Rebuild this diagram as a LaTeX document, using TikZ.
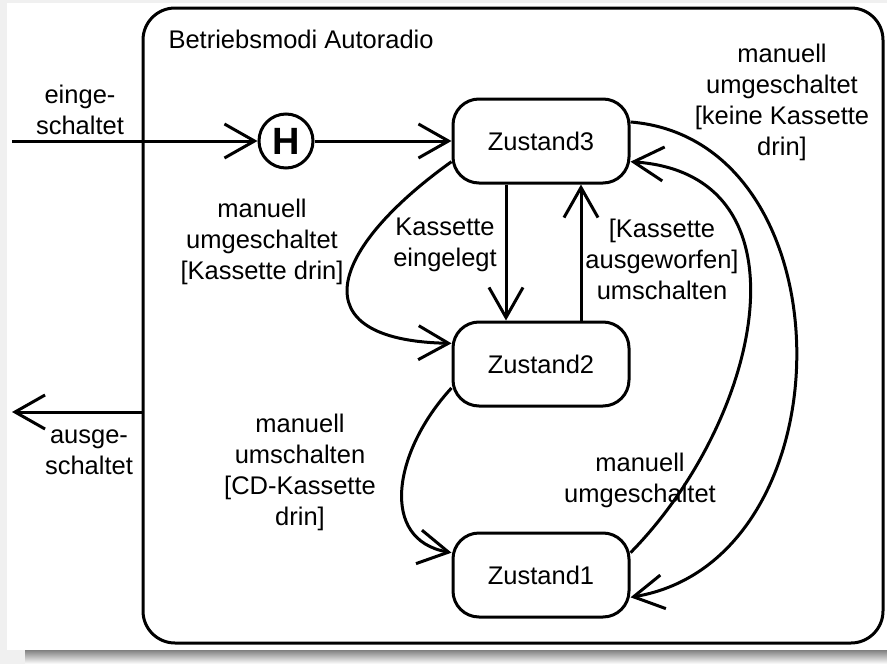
\documentclass[tikz,border=0pt]{standalone}
\usepackage{fontspec}
\setmainfont{Liberation Sans}
\usetikzlibrary{arrows.meta}

\definecolor{rim}{HTML}{F0F0F0}
\definecolor{shade}{HTML}{808080}

\tikzset{
  zustand/.style={draw, line width=3pt, rounded corners=26pt, minimum width=176pt, minimum height=84pt},
  trans/.style={line width=3pt, -{Straight Barb[length=30pt,width=34pt]}},
  lbl/.style={align=center, inner sep=0pt},
}

\begin{document}
\begin{tikzpicture}[x=1pt,y=-1pt, every node/.style={font=\fontsize{25.5}{31}\selectfont}]
  % page with shadow bar
  \fill[rim] (0,0) rectangle (887,664);
  \fill[white] (7,3) rectangle (887,650);
  \fill[shade] (25,650) rectangle (887,664);
  \useasboundingbox (0,0) rectangle (887,664);

  % superstate
  \node[draw, line width=3pt, rounded corners=32pt, minimum width=740pt, minimum height=635pt] (modi) at (513,325.5) {};
  \node[anchor=base west] (titel) at (165,48) {Betriebsmodi Autoradio};

  % states
  \node[circle, draw, line width=3pt, minimum size=54pt, inner sep=0pt, font=\fontsize{38}{38}\selectfont\bfseries] (hist) at (286,141) {H};
  \node[zustand] (z3) at (541,141) {Zustand3};
  \node[zustand] (z2) at (541,364) {Zustand2};
  \node[zustand] (z1) at (541,575) {Zustand1};

  \coordinate (ein) at (12,141);
  \coordinate (aus) at (12,412);

  % transitions
  \draw[trans] (ein) -- (hist);
  \draw[trans] (hist) -- (z3);
  \draw[trans] ([xshift=-35pt]z3.south) -- ([xshift=-35pt]z2.north);
  \draw[trans] ([xshift=40pt]z2.north) -- ([xshift=40pt]z3.south);
  \draw[trans] (z3.193) .. controls +(-123,88) and +(-153,-3) .. (z2.167);
  \draw[trans] (z2.195) .. controls +(-58,63) and +(-73,-13) .. (z1.166);
  \draw[trans] (z1.14) .. controls +(130,-132) and +(186,13) .. (z3.-13);
  \draw[trans] (z3.12) .. controls +(221,18) and +(221,-37) .. (z1.-14);
  \draw[trans] (modi.west |- aus) -- (aus);

  % labels
  \node[lbl] (lein) at (80,110) {einge-\\schaltet};
  \node[lbl] (laus) at (89,452) {ausge-\\schaltet};
  \node[lbl] (l32a) at (262,242) {manuell\\umgeschaltet\\{}[Kassette drin]};
  \node[lbl] (l32b) at (445,245) {Kassette\\eingelegt};
  \node[lbl] (l23) at (662,259) {[Kassette\\ausgeworfen]\\umschalten};
  \node[lbl] (l21) at (300,472) {manuell\\umschalten\\{}[CD-Kassette\\drin]};
  \node[lbl] (l13) at (640,480) {manuell\\umgeschaltet};
  \node[lbl] (l31) at (782,102) {manuell\\umgeschaltet\\{}[keine Kassette\\drin]};
\end{tikzpicture}
\end{document}
